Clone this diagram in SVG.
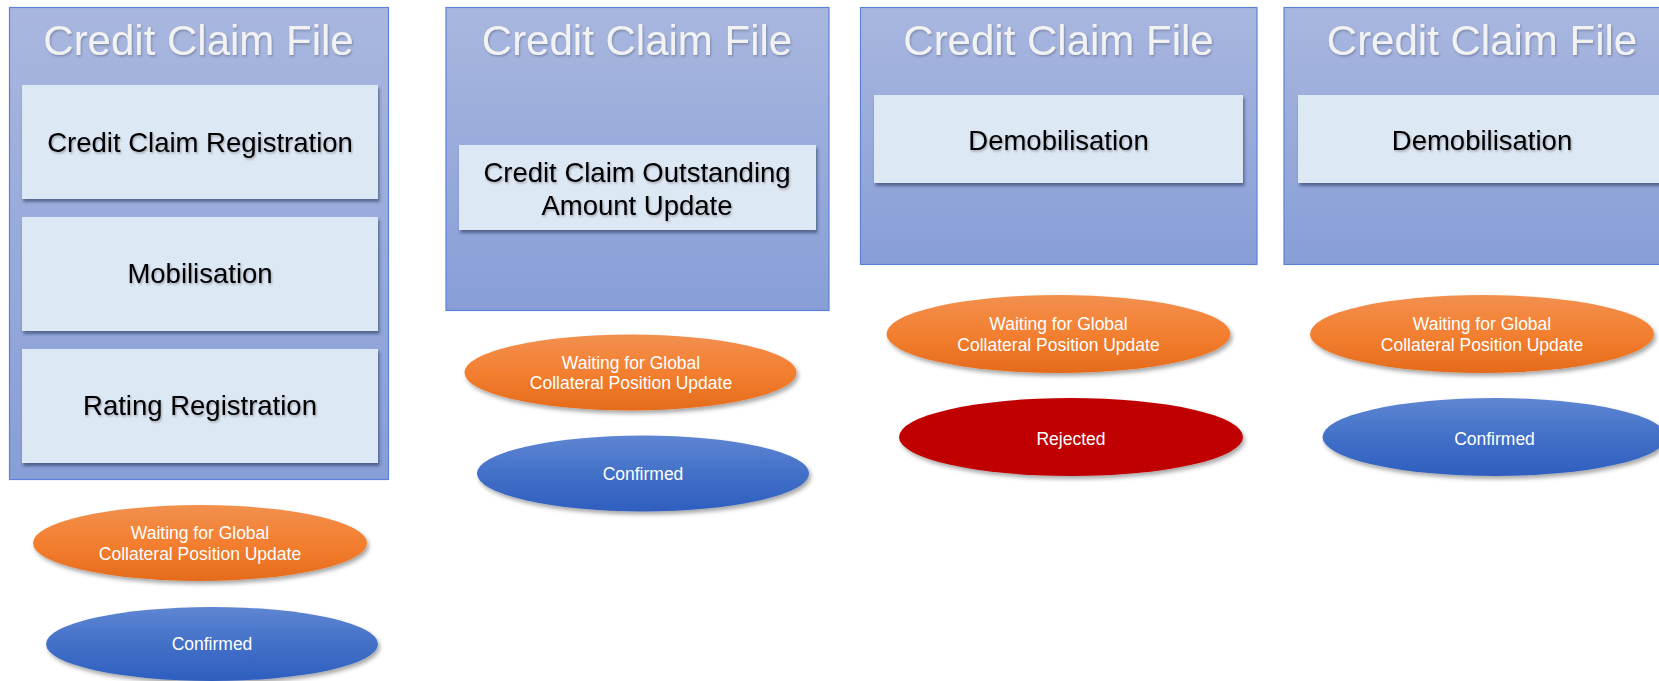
<svg xmlns="http://www.w3.org/2000/svg" width="1659" height="681" viewBox="0 0 1659 681">
<defs>
<linearGradient id="gCont" x1="0" y1="0" x2="0" y2="1">
<stop offset="0" stop-color="#a9b7df"/>
<stop offset="1" stop-color="#879ed7"/>
</linearGradient>
<linearGradient id="gOrange" x1="0" y1="0" x2="0" y2="1">
<stop offset="0" stop-color="#f1904f"/>
<stop offset="0.5" stop-color="#f37f30"/>
<stop offset="1" stop-color="#e56b1b"/>
</linearGradient>
<linearGradient id="gBlue" x1="0" y1="0" x2="0" y2="1">
<stop offset="0" stop-color="#5f86d2"/>
<stop offset="0.5" stop-color="#4270c8"/>
<stop offset="1" stop-color="#2f5fbf"/>
</linearGradient>
<filter id="fBox" x="-10%" y="-20%" width="120%" height="150%">
<feDropShadow dx="1.5" dy="3" stdDeviation="1.8" flood-color="#1f2d50" flood-opacity="0.55"/>
</filter>
<filter id="fEll" x="-10%" y="-20%" width="120%" height="150%">
<feDropShadow dx="2" dy="3" stdDeviation="2" flood-color="#000" flood-opacity="0.35"/>
</filter>
<filter id="fTitle" x="-5%" y="-20%" width="110%" height="150%">
<feDropShadow dx="1" dy="1.5" stdDeviation="1" flood-color="#000" flood-opacity="0.25"/>
</filter>
<filter id="fTxt" x="-5%" y="-20%" width="110%" height="150%">
<feDropShadow dx="1" dy="1.5" stdDeviation="0.8" flood-color="#000" flood-opacity="0.3"/>
</filter>
</defs>
<style>
.cont{fill:url(#gCont);stroke:#5b82d6;stroke-width:1.2}
.box{fill:#dde8f5;filter:url(#fBox)}
.title{font-family:"Liberation Sans",Arial,sans-serif;font-size:42px;fill:#f2f2f2;text-anchor:middle;filter:url(#fTitle)}
.btxt{font-family:"Liberation Sans",Arial,sans-serif;font-size:27.5px;fill:#000;text-anchor:middle;filter:url(#fTxt)}
.etxt{font-family:"Liberation Sans",Arial,sans-serif;font-size:17.5px;fill:#fff;text-anchor:middle}
.or{fill:url(#gOrange);filter:url(#fEll)}
.bl{fill:url(#gBlue);filter:url(#fEll)}
.rd{fill:#c00000;filter:url(#fEll)}
</style>
<rect width="1659" height="681" fill="#fff"/>
<g id="connectors"></g>

<g id="file1">
<rect class="cont" x="9.5" y="7.5" width="379" height="472"/>
<text class="title" x="198.5" y="55">Credit Claim File</text>
</g>
<g id="reg1">
<rect class="box" x="22" y="85" width="356" height="114"/>
<text class="btxt" x="200" y="152">Credit Claim Registration</text>
</g>
<g id="mob1">
<rect class="box" x="22" y="217" width="356" height="114"/>
<text class="btxt" x="200" y="283">Mobilisation</text>
</g>
<g id="rating1">
<rect class="box" x="22" y="349" width="356" height="114"/>
<text class="btxt" x="200" y="415">Rating Registration</text>
</g>
<g id="wait1">
<ellipse class="or" cx="200" cy="543" rx="167" ry="38"/>
<text class="etxt" x="200" y="539">Waiting for Global</text>
<text class="etxt" x="200" y="560">Collateral Position Update</text>
</g>
<g id="conf1">
<ellipse class="bl" cx="212" cy="644" rx="166" ry="37"/>
<text class="etxt" x="212" y="650">Confirmed</text>
</g>

<g id="file2">
<rect class="cont" x="446" y="7.5" width="383" height="303"/>
<text class="title" x="637" y="55">Credit Claim File</text>
</g>
<g id="upd2">
<rect class="box" x="459" y="145" width="357" height="85"/>
<text class="btxt" x="637" y="182">Credit Claim Outstanding</text>
<text class="btxt" x="637" y="215">Amount Update</text>
</g>
<g id="wait2">
<ellipse class="or" cx="630.5" cy="372.5" rx="166" ry="38"/>
<text class="etxt" x="631" y="368.5">Waiting for Global</text>
<text class="etxt" x="631" y="389">Collateral Position Update</text>
</g>
<g id="conf2">
<ellipse class="bl" cx="643" cy="473.5" rx="166" ry="38"/>
<text class="etxt" x="643" y="479.5">Confirmed</text>
</g>

<g id="file3">
<rect class="cont" x="860.5" y="7.5" width="396.5" height="257"/>
<text class="title" x="1058.5" y="55">Credit Claim File</text>
</g>
<g id="demob3">
<rect class="box" x="874" y="95" width="369" height="88"/>
<text class="btxt" x="1058.5" y="150">Demobilisation</text>
</g>
<g id="wait3">
<ellipse class="or" cx="1058.5" cy="334" rx="172" ry="39"/>
<text class="etxt" x="1058.5" y="330">Waiting for Global</text>
<text class="etxt" x="1058.5" y="350.5">Collateral Position Update</text>
</g>
<g id="rej3">
<ellipse class="rd" cx="1071" cy="437" rx="172" ry="39"/>
<text class="etxt" x="1071" y="445">Rejected</text>
</g>

<g id="file4">
<rect class="cont" x="1284" y="7.5" width="396.5" height="257"/>
<text class="title" x="1482" y="55">Credit Claim File</text>
</g>
<g id="demob4">
<rect class="box" x="1298" y="95" width="369" height="88"/>
<text class="btxt" x="1482" y="150">Demobilisation</text>
</g>
<g id="wait4">
<ellipse class="or" cx="1482" cy="334" rx="172" ry="39"/>
<text class="etxt" x="1482" y="330">Waiting for Global</text>
<text class="etxt" x="1482" y="350.5">Collateral Position Update</text>
</g>
<g id="conf4">
<ellipse class="bl" cx="1494.5" cy="437" rx="172" ry="39"/>
<text class="etxt" x="1494.5" y="445">Confirmed</text>
</g>
</svg>
